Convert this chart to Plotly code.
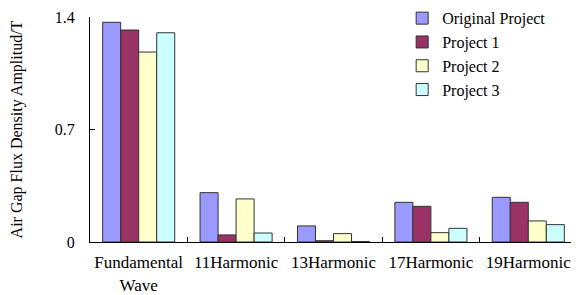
import plotly.graph_objects as go

categories = ["Fundamental<br>Wave", "11Harmonic", "13Harmonic", "17Harmonic", "19Harmonic"]
series_names = ["Original Project", "Project 1", "Project 2", "Project 3"]
original = [1.367, 0.307, 0.100, 0.247, 0.278]
project1 = [1.319, 0.044, 0.008, 0.222, 0.247]
project2 = [1.182, 0.268, 0.052, 0.058, 0.131]
project3 = [1.302, 0.056, 0.003, 0.085, 0.108]
y_ticks = [0, 0.7, 1.4]
y_tick_labels = ["0", "0.7", "1.4"]
colors = ["#9999FF", "#993366", "#FFFFCC", "#CCFFFF"]

font_family = "Liberation Serif, Times New Roman, serif"

fig = go.Figure()
for name, vals, col in zip(series_names, [original, project1, project2, project3], colors):
    fig.add_trace(go.Bar(
        x=categories, y=vals, name=name,
        marker=dict(color=col, line=dict(color="#333333", width=1)),
    ))

# page body has an 8px margin, so the figure is drawn 8px smaller and shifted
fig.update_layout(
    width=571, height=287,
    margin=dict(l=82, r=2, t=9, b=53, autoexpand=False),
    paper_bgcolor="white", plot_bgcolor="white",
    barmode="group", bargap=0.26, bargroupgap=0,
    font=dict(family=font_family, size=15, color="#000000"),
    showlegend=True,
    legend=dict(
        x=0.641, y=1.07, xanchor="left", yanchor="top",
        bgcolor="rgba(0,0,0,0)", font=dict(size=16, family=font_family),
        itemwidth=30, tracegroupgap=0,
    ),
    xaxis=dict(
        showline=True, linecolor="#000000", linewidth=1,
        ticks="inside", ticklen=5, tickcolor="#000000",
        tickson="boundaries", mirror=False,
        tickfont=dict(size=17, family=font_family),
        tickangle=0, automargin=False,
        ticklabelstandoff=5,
        showgrid=False,
    ),
    yaxis=dict(
        range=[0, 1.4], tickvals=y_ticks, ticktext=y_tick_labels,
        showline=True, linecolor="#000000", linewidth=1,
        ticks="inside", ticklen=5, tickcolor="#000000",
        showgrid=False, zeroline=False,
        tickfont=dict(size=16, family=font_family),
        ticklabelstandoff=11,
        title=dict(text="Air Gap Flux Density Amplitud/T", font=dict(size=16, family=font_family), standoff=30),
        automargin=False,
    ),
)

fig.write_html("out.html")
